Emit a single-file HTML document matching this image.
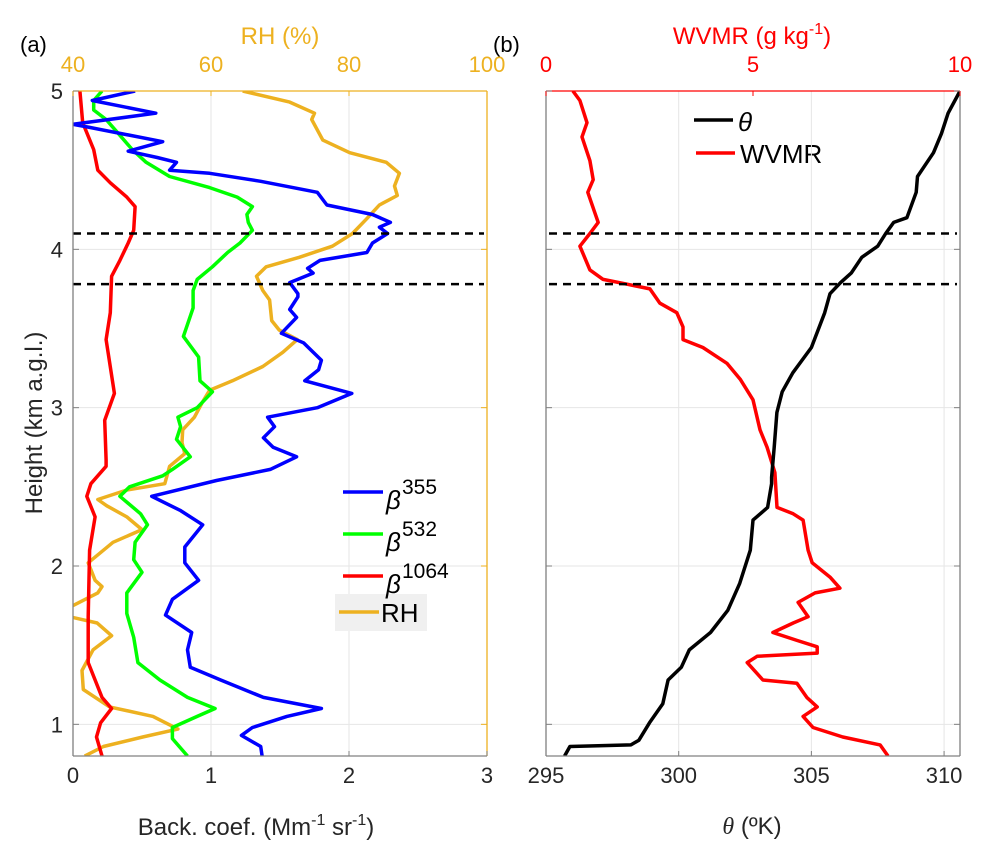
<!DOCTYPE html>
<html><head><meta charset="utf-8"><style>
body{margin:0;background:#fff;}
svg text{font-family:"Liberation Sans",Arial,sans-serif;}
</style></head><body>
<svg id="fig" width="992" height="857" viewBox="0 0 992 857" xmlns="http://www.w3.org/2000/svg">
<defs>
<clipPath id="clipA"><rect x="73" y="91" width="414" height="665"/></clipPath>
<clipPath id="clipB"><rect x="546" y="91" width="414" height="665"/></clipPath>
</defs>
<g id="gA"></g>
<g id="gB"></g>
</svg>
<script>
// ---- Panel (a) data: heights (km) and values ----
const b355H=[5.0,4.94,4.86,4.79,4.77,4.68,4.62,4.58,4.55,4.50,4.48,4.43,4.36,4.28,4.22,4.17,4.14,4.10,4.04,3.98,3.93,3.88,3.85,3.79,3.72,3.70,3.62,3.57,3.47,3.41,3.30,3.24,3.17,3.09,3.00,2.94,2.88,2.81,2.75,2.69,2.61,2.54,2.44,2.35,2.26,2.12,2.02,1.91,1.79,1.69,1.58,1.47,1.36,1.28,1.17,1.10,1.05,0.98,0.93,0.86,0.80];
const b355V=[0.45,0.14,0.60,0.0,0.12,0.65,0.40,0.61,0.75,0.70,0.99,1.36,1.77,1.84,2.17,2.30,2.22,2.28,2.17,2.13,1.79,1.70,1.74,1.57,1.63,1.63,1.57,1.62,1.51,1.67,1.80,1.78,1.68,2.02,1.77,1.41,1.46,1.38,1.45,1.62,1.43,1.04,0.57,0.78,0.94,0.81,0.81,0.91,0.72,0.67,0.86,0.83,0.85,1.07,1.38,1.80,1.55,1.30,1.22,1.36,1.37];
const b532H=[5.0,4.94,4.88,4.82,4.73,4.63,4.55,4.46,4.39,4.33,4.27,4.22,4.17,4.12,4.04,3.98,3.89,3.81,3.74,3.63,3.45,3.32,3.17,3.10,3.00,2.94,2.88,2.80,2.69,2.61,2.57,2.50,2.44,2.33,2.26,2.15,2.04,1.96,1.83,1.70,1.55,1.39,1.28,1.17,1.10,1.05,0.98,0.91,0.80];
const b532V=[0.21,0.15,0.15,0.24,0.33,0.43,0.53,0.70,0.99,1.19,1.30,1.26,1.27,1.30,1.21,1.12,1.01,0.90,0.87,0.87,0.80,0.91,0.92,1.01,0.90,0.76,0.78,0.75,0.85,0.72,0.65,0.41,0.34,0.49,0.54,0.45,0.44,0.50,0.39,0.39,0.44,0.47,0.63,0.83,1.03,0.90,0.72,0.72,0.83];
const b1064H=[5.0,4.8,4.63,4.50,4.42,4.33,4.27,4.12,4.04,3.93,3.83,3.60,3.43,3.09,2.92,2.67,2.63,2.52,2.44,2.31,2.10,1.68,1.39,1.28,1.17,1.10,1.01,0.92,0.80];
const b1064V=[0.05,0.07,0.15,0.18,0.27,0.39,0.45,0.44,0.40,0.34,0.28,0.27,0.24,0.30,0.23,0.24,0.24,0.13,0.10,0.16,0.12,0.11,0.11,0.16,0.21,0.28,0.20,0.17,0.21];
const rhH=[5.0,4.93,4.86,4.82,4.69,4.61,4.55,4.48,4.40,4.34,4.28,4.19,4.10,4.02,3.95,3.89,3.83,3.74,3.68,3.55,3.49,3.43,3.35,3.26,3.17,3.11,3.03,2.94,2.86,2.78,2.71,2.63,2.52,2.48,2.42,2.38,2.31,2.23,2.15,2.02,1.91,1.87,1.83,1.75,1.71,1.68,1.64,1.56,1.47,1.34,1.22,1.11,1.05,0.97,0.92,0.86,0.80];
const rhV=[64.6,71.4,75.0,74.6,76.2,80.1,85.4,87.3,86.6,87.0,84.4,82.5,80.5,77.6,72.8,68.0,66.6,67.5,68.5,68.8,69.9,72.5,70.4,67.5,63.1,59.8,58.7,57.6,55.9,55.8,56.2,54.0,53.3,47.8,43.6,44.9,47.8,50.0,45.8,42.2,43.2,44.2,43.6,40.0,37.5,39.5,43.5,45.6,42.9,41.3,41.5,45.3,51.6,55.2,50.1,44.4,41.7];
const aXTicks=[0,1,2,3];
const aRHTicks=[40,60,80,100];
const hTicks=[1,2,3,4,5];
const layerTops=[4.1,3.78];
// ---- Panel (b) data ----
const thH=[5.0,4.86,4.73,4.61,4.46,4.36,4.20,4.17,4.10,4.02,3.95,3.85,3.79,3.72,3.60,3.38,3.22,3.10,2.97,2.75,2.56,2.52,2.37,2.29,2.10,1.89,1.72,1.58,1.47,1.36,1.28,1.13,1.01,0.90,0.87,0.86,0.80];
const thV=[310.6,310.15,309.9,309.6,309.0,308.95,308.6,308.1,307.8,307.5,306.9,306.5,306.1,305.7,305.5,305.0,304.3,303.9,303.7,303.6,303.5,303.5,303.35,302.8,302.7,302.3,301.85,301.2,300.4,300.1,299.6,299.4,298.9,298.5,298.2,295.9,295.7];
const wvH=[5.0,4.94,4.80,4.71,4.56,4.44,4.36,4.23,4.17,4.10,4.02,3.87,3.81,3.78,3.75,3.66,3.60,3.51,3.43,3.38,3.28,3.18,3.05,2.86,2.75,2.59,2.37,2.33,2.29,2.10,2.02,1.93,1.86,1.83,1.77,1.68,1.64,1.58,1.53,1.49,1.45,1.43,1.39,1.28,1.26,1.17,1.11,1.05,0.98,0.92,0.87,0.80];
const wvV=[0.65,0.82,0.99,0.87,1.06,1.14,1.01,1.18,1.26,1.06,0.82,1.06,1.38,1.96,2.51,2.75,3.16,3.31,3.31,3.79,4.37,4.69,5.0,5.17,5.34,5.53,5.58,5.97,6.21,6.33,6.43,6.86,7.10,6.50,6.09,6.33,5.97,5.48,6.06,6.55,6.55,5.10,4.86,5.24,6.06,6.30,6.55,6.21,6.45,7.17,8.07,8.26];
const bXTicks=[295,300,305,310];
const bWVTicks=[0,5,10];

const NS='http://www.w3.org/2000/svg';
function mk(parent,tag,attrs,txt){const e=document.createElementNS(NS,tag);for(const k in attrs)e.setAttribute(k,attrs[k]);if(txt!==undefined)e.textContent=txt;parent.appendChild(e);return e;}
const Y0=756,Y1=91,H0=0.8,H1=5.0;
const yS=h=>Y0-(h-H0)/(H1-H0)*(Y0-Y1);
function linS(d0,d1,p0,p1){return v=>p0+(v-d0)/(d1-d0)*(p1-p0);}
const axA=linS(0,3,73,487), axRH=linS(40,100,73,487);
const axTh=linS(295,310.6,546,960), axWV=linS(0,10,546,960);
function path(H,V,xs){return H.map((h,i)=>(i?'L':'M')+xs(V[i]).toFixed(1)+','+yS(h).toFixed(1)).join('');}

const gA=document.getElementById('gA'), gB=document.getElementById('gB');
const tc='#262626';
const FS=22;

// ---- panel a ----
for(const t of aXTicks){if(t>0&&t<3){const l=mk(gA,'line',{x1:axA(t),x2:axA(t),y1:Y1,y2:Y0,stroke:'#e6e6e6','stroke-width':1});

}}
for(const h of hTicks){if(h<5){const l=mk(gA,'line',{x1:73,x2:487,y1:yS(h),y2:yS(h),stroke:'#e6e6e6','stroke-width':1});

}}
const seriesA=[[rhH,rhV,axRH,'#EDB120','rh-line'],[b1064H,b1064V,axA,'#ff0000','beta-1064-line'],[b532H,b532V,axA,'#00ff00','beta-532-line'],[b355H,b355V,axA,'#0000ff','beta-355-line']];
for(const s of seriesA){const p=mk(gA,'path',{d:path(s[0],s[1],s[2]),fill:'none',stroke:s[3],'stroke-width':3.5,'stroke-linejoin':'round','clip-path':'url(#clipA)'});

}
for(const lt of layerTops){const l=mk(gA,'line',{x1:73,x2:484,y1:yS(lt),y2:yS(lt),stroke:'#000','stroke-width':2.5,'stroke-dasharray':'8,6'});

}
mk(gA,'line',{x1:73,x2:73,y1:Y1,y2:Y0,stroke:'#808080','stroke-width':1.3});
mk(gA,'line',{x1:73,x2:487,y1:Y0,y2:Y0,stroke:'#808080','stroke-width':1.3});
mk(gA,'line',{x1:73,x2:487,y1:Y1,y2:Y1,stroke:'#EDB120','stroke-width':1.3});
mk(gA,'line',{x1:487,x2:487,y1:Y1,y2:Y0,stroke:'#EDB120','stroke-width':1.3});
for(const t of aXTicks){mk(gA,'line',{x1:axA(t),x2:axA(t),y1:Y0,y2:Y0-5,stroke:'#808080'});
const e=mk(gA,'text',{x:axA(t),y:783,'text-anchor':'middle','font-size':FS,fill:tc},t);

}
for(const t of aRHTicks){mk(gA,'line',{x1:axRH(t),x2:axRH(t),y1:Y1,y2:Y1+5,stroke:'#EDB120'});
const e=mk(gA,'text',{x:axRH(t),y:72,'text-anchor':'middle','font-size':FS,fill:'#EDB120'},t);

}
for(const h of hTicks){mk(gA,'line',{x1:73,x2:79,y1:yS(h),y2:yS(h),stroke:'#808080'});mk(gA,'line',{x1:481,x2:487,y1:yS(h),y2:yS(h),stroke:'#EDB120'});
const e=mk(gA,'text',{x:63,y:yS(h)+8,'text-anchor':'end','font-size':FS,fill:tc},h);

}
</script>
<script>
(function(){
const gA=document.getElementById('gA'), gB=document.getElementById('gB');
gA.insertAdjacentHTML('beforeend',`
<text x="20" y="52" font-size="22" fill="#000">(a)</text>
<text x="280" y="44" text-anchor="middle" font-size="24" fill="#EDB120">RH (%)</text>
<text transform="translate(42,423) rotate(-90)" text-anchor="middle" font-size="24" fill="#262626">Height (km a.g.l.)</text>
<text x="256" y="835" text-anchor="middle" font-size="24" fill="#262626">Back. coef. (Mm<tspan dy="-10" font-size="16">-1</tspan><tspan dy="10"> sr</tspan><tspan dy="-10" font-size="16">-1</tspan><tspan dy="10">)</tspan></text>
<g>
<rect x="335" y="594" width="92" height="37" fill="#f0f0f0"/>
<line x1="343" x2="383" y1="492" y2="492" stroke="#0000ff" stroke-width="3.5"/>
<text x="386" y="509" font-size="26" font-style="italic" font-family="Liberation Serif,serif">β</text><text x="402" y="494" font-size="21">355</text>
<line x1="343" x2="383" y1="534" y2="534" stroke="#00ff00" stroke-width="3.5"/>
<text x="386" y="551" font-size="26" font-style="italic" font-family="Liberation Serif,serif">β</text><text x="402" y="536" font-size="21">532</text>
<line x1="343" x2="383" y1="576" y2="576" stroke="#ff0000" stroke-width="3.5"/>
<text x="386" y="593" font-size="26" font-style="italic" font-family="Liberation Serif,serif">β</text><text x="402" y="578" font-size="21">1064</text>
<line x1="339" x2="379" y1="612" y2="612" stroke="#EDB120" stroke-width="3.5"/>
<text x="381" y="622" font-size="26" fill="#000">RH</text>
</g>`);
gB.insertAdjacentHTML('beforeend',`
<text x="493" y="52" font-size="22" fill="#000">(b)</text>
<text x="752" y="44" text-anchor="middle" font-size="24" fill="#ff0000">WVMR (g kg<tspan dy="-10" font-size="16">-1</tspan><tspan dy="10">)</tspan></text>
<text x="752" y="834" text-anchor="middle" font-size="24" fill="#262626"><tspan font-style="italic" font-family="Liberation Serif,serif">θ</tspan> (ºK)</text>
<g>
<line x1="694" x2="733" y1="120" y2="120" stroke="#000" stroke-width="3.5"/>
<text x="738" y="131" font-size="26" font-style="italic" font-family="Liberation Serif,serif">θ</text>
<line x1="696" x2="735" y1="153" y2="153" stroke="#ff0000" stroke-width="3.5"/>
<text x="740" y="163" font-size="26" fill="#000">WVMR</text>
</g>`);
})();
</script>
<script>
(function(){
const gB=document.getElementById('gB');
for(const t of bXTicks){if(t>295){const l=mk(gB,'line',{x1:axTh(t),x2:axTh(t),y1:Y1,y2:Y0,stroke:'#e6e6e6'});

}}
for(const h of hTicks){if(h<5){const l=mk(gB,'line',{x1:546,x2:960,y1:yS(h),y2:yS(h),stroke:'#e6e6e6'});

}}
const pw=mk(gB,'path',{d:path(wvH,wvV,axWV),fill:'none',stroke:'#ff0000','stroke-width':3.5,'stroke-linejoin':'round','clip-path':'url(#clipB)'});


const pt=mk(gB,'path',{d:path(thH,thV,axTh),fill:'none',stroke:'#000','stroke-width':3.5,'stroke-linejoin':'round','clip-path':'url(#clipB)'});


for(const lt of layerTops){const l=mk(gB,'line',{x1:549,x2:957,y1:yS(lt),y2:yS(lt),stroke:'#000','stroke-width':2.5,'stroke-dasharray':'8,6'});

}
mk(gB,'line',{x1:546,x2:546,y1:Y1,y2:Y0,stroke:'#808080','stroke-width':1.3});
mk(gB,'line',{x1:960,x2:960,y1:Y1,y2:Y0,stroke:'#808080','stroke-width':1.3});
mk(gB,'line',{x1:546,x2:960,y1:Y0,y2:Y0,stroke:'#808080','stroke-width':1.3});
mk(gB,'line',{x1:546,x2:960,y1:Y1,y2:Y1,stroke:'#ff0000','stroke-width':1.3});
for(const t of bXTicks){mk(gB,'line',{x1:axTh(t),x2:axTh(t),y1:Y0,y2:Y0-5,stroke:'#808080'});
const e=mk(gB,'text',{x:axTh(t),y:783,'text-anchor':'middle','font-size':FS,fill:tc},t);

}
for(const t of bWVTicks){mk(gB,'line',{x1:axWV(t),x2:axWV(t),y1:Y1,y2:Y1+5,stroke:'#ff0000'});
const e=mk(gB,'text',{x:axWV(t),y:72,'text-anchor':'middle','font-size':FS,fill:'#ff0000'},t);

}
for(const h of hTicks){mk(gB,'line',{x1:546,x2:552,y1:yS(h),y2:yS(h),stroke:'#808080'});mk(gB,'line',{x1:954,x2:960,y1:yS(h),y2:yS(h),stroke:'#808080'});}
})();
</script>
</body></html>
